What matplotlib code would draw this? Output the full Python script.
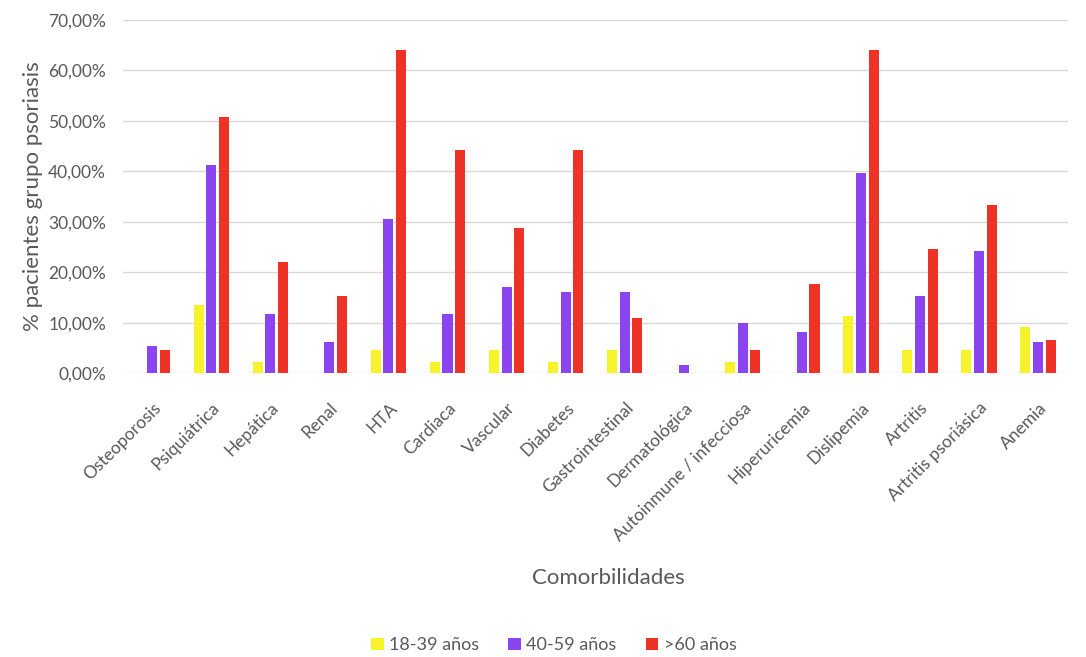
import matplotlib.pyplot as plt
import matplotlib.transforms as mtransforms
import numpy as np
from matplotlib.ticker import FuncFormatter

plt.rcParams["font.family"] = ["Lato", "DejaVu Sans"]

CATEGORIES = [
    "Osteoporosis", "Psiquiátrica", "Hepática", "Renal", "HTA", "Cardiaca",
    "Vascular", "Diabetes", "Gastrointestinal", "Dermatológica",
    "Autoinmune / infecciosa", "Hiperuricemia", "Dislipemia", "Artritis",
    "Artritis psoriásica", "Anemia",
]
SERIES = ["18-39 años", "40-59 años", ">60 años"]

# percentages of patients per age group
AGE_18_39 = [0.0, 13.6, 2.3, 0.0, 4.5, 2.3, 4.5, 2.3, 4.5, 0.0, 2.3, 0.0, 11.4, 4.5, 4.5, 9.1]
AGE_40_59 = [5.3, 41.2, 11.8, 6.1, 30.5, 11.8, 17.0, 16.0, 16.0, 1.6, 9.9, 8.1, 39.7, 15.3, 24.1, 6.1]
AGE_60_PLUS = [4.5, 50.8, 22.1, 15.3, 64.0, 44.1, 28.8, 44.1, 10.9, 0.0, 4.5, 17.7, 64.0, 24.6, 33.3, 6.5]

COLORS = ["#F7F22A", "#8B45F0", "#EE3226"]
TEXT_GREY = "#595959"

fig = plt.figure(figsize=(10.86, 6.57), dpi=100)
ax = fig.add_axes([0.113, 0.432, 0.870, 0.538])

x = np.arange(len(CATEGORIES))
width = 0.17
step = 0.215
for k, (name, vals) in enumerate(zip(SERIES, [AGE_18_39, AGE_40_59, AGE_60_PLUS])):
    ax.bar(x + (k - 1) * step, np.array(vals) / 100.0, width, color=COLORS[k],
           label=name, zorder=3)

ax.set_xlim(-0.5, len(CATEGORIES) - 0.5)
ax.set_ylim(0, 0.70)
ax.set_yticks(np.arange(0, 0.701, 0.10))
ax.yaxis.set_major_formatter(FuncFormatter(lambda v, _: f"{v * 100:.2f}%".replace(".", ",")))
ax.grid(axis="y", color="#D9D9D9", linewidth=1.0, zorder=0)
for s in ax.spines.values():
    s.set_visible(False)
ax.tick_params(axis="both", length=0, colors=TEXT_GREY)
ax.tick_params(axis="y", labelsize=12.5, pad=12)

ax.set_xticks(x)
ax.set_xticklabels(CATEGORIES, rotation=45, ha="right", va="center",
                   rotation_mode="anchor", fontsize=12.5)
ax.tick_params(axis="x", pad=23)
shift = mtransforms.ScaledTranslation(6 / 100, 0, fig.dpi_scale_trans)
for lbl in ax.get_xticklabels():
    lbl.set_transform(lbl.get_transform() + shift)

ax.set_ylabel("% pacientes grupo psoriasis", fontsize=16, color=TEXT_GREY, labelpad=4)
fig.text(0.56, 0.12, "Comorbilidades", fontsize=16, color=TEXT_GREY, ha="center", va="center")

leg = fig.legend(loc="center", bbox_to_anchor=(0.51, 0.018), ncol=3, frameon=False,
                 fontsize=13, handlelength=0.7, handleheight=0.7, handletextpad=0.3,
                 columnspacing=1.6)
for t in leg.get_texts():
    t.set_color(TEXT_GREY)

fig.savefig("out.png", dpi=100)
